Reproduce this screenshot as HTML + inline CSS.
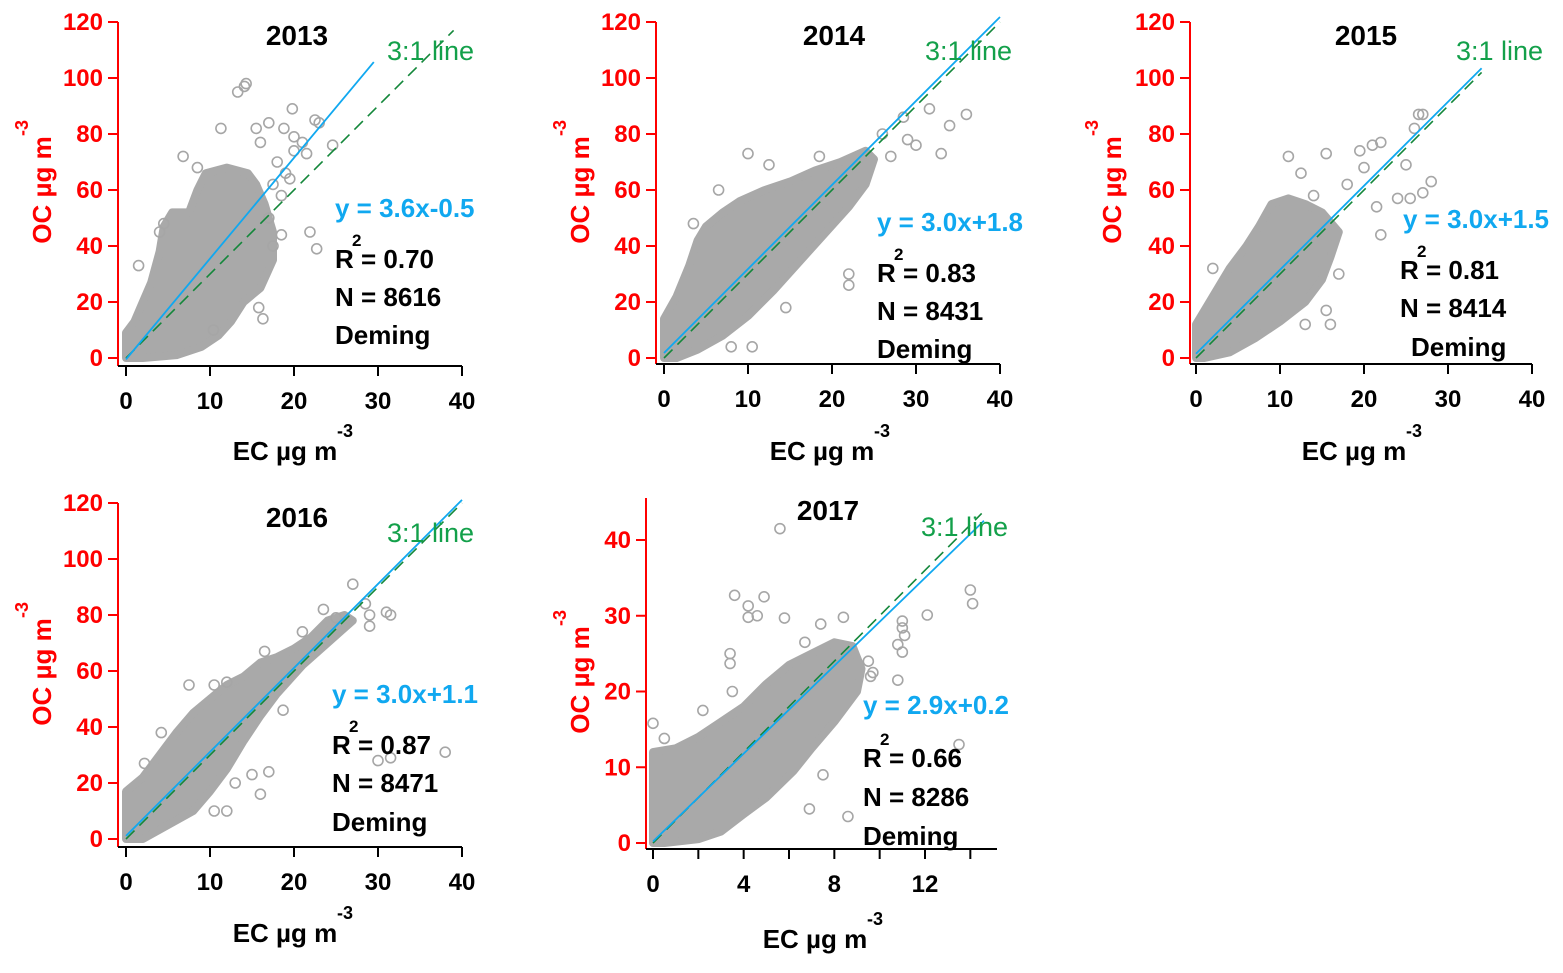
<!DOCTYPE html>
<html><head><meta charset="utf-8">
<style>
html,body{margin:0;padding:0;background:#fff;}
svg text{font-family:"Liberation Sans",Arial,sans-serif;}
</style></head>
<body>
<svg id="chart" xmlns="http://www.w3.org/2000/svg" width="1563" height="968" viewBox="0 0 1563 968"></svg>
<script>
// ---- Data (data units: EC, OC) ----
const years = ["2013","2014","2015","2016","2017"];
const fitSlopes = [3.6, 3.0, 3.0, 3.0, 2.9];
const fitIntercepts = [-0.5, 1.8, 1.5, 1.1, 0.2];
const fitXmax = [29.5, 40, 34, 40, 14.6];
const ratioXmax = [39, 40, 34, 40, 14.5];
const r2Values = ["0.70","0.83","0.81","0.87","0.66"];
const nValues = ["8616","8431","8414","8471","8286"];
const eqLabels = ["y = 3.6x-0.5","y = 3.0x+1.8","y = 3.0x+1.5","y = 3.0x+1.1","y = 2.9x+0.2"];

const cloud2013 = [[0,0],[0,9],[1,13],[2,20],[3,27],[4,38],[4.5,47],[5.5,52],[7.5,52],[8.5,60],[9.5,66],[12,68],[14.5,66],[15.5,62],[16.5,55],[17.5,45],[17.5,35],[16,25],[14,20],[12.5,13],[11,8],[9,4],[6,1],[2,0]];
const cloud2014 = [[0,0],[0,14],[1.5,22],[3,33],[4,42],[5,47],[7,52],[9,56],[12,60],[15,63],[18,67],[21,70],[24,74],[25,71],[24,62],[22,54],[19,44],[16,34],[13,24],[10,15],[7,8],[4,3],[1.5,0]];
const cloud2015 = [[0,0],[0,12],[2,22],[4,32],[6,40],[7.5,47],[9,55],[11,57],[13,55],[15,52],[17,45],[16,36],[15,28],[13,20],[10,13],[7,7],[4,2],[1,0]];
const cloud2016 = [[0,0],[0,17],[2,22],[4,30],[6,38],[8,45],[10,50],[12,55],[14,58],[16,63],[18,65],[20,68],[22,72],[24,78],[26,80],[27,78],[24,70],[21,62],[18,52],[16,44],[14,35],[12,25],[10,17],[8,10],[5,5],[2,0]];
const cloud2017 = [[0,0],[0,12],[1,12.5],[2,14],[3,16],[4,18],[5,21],[6,23.5],[7,25],[8,26.5],[8.8,26],[9.2,23],[9,20],[8,16],[7,12.5],[6.2,9.5],[5,6],[4,3.8],[3,1.5],[2,0.5],[0.5,0]];

const out2013 = [[1.5,33],[6.8,72],[11.3,82],[14.3,98],[14.1,97],[13.3,95],[19.8,89],[17,84],[15.5,82],[24.6,76],[21.9,45],[22.7,39],[16.3,14],[15.8,18],[10.4,10],[18.8,82],[22.5,85],[23,84],[20,79],[16,77],[8.5,68],[4,45],[4.5,48],[18,70],[19,66],[20,74],[21,77],[17.5,62],[18.5,58],[19.5,64],[21.5,73],[17,50],[18.5,44],[17.5,40]];
const out2014 = [[10,73],[12.5,69],[6.5,60],[31.6,89],[36,87],[34,83],[33,73],[30,76],[26,80],[22,30],[22,26],[14.5,18],[10.5,4],[8,4],[27,72],[29,78],[3.5,48],[18.5,72],[28.5,86]];
const out2015 = [[11,72],[15.5,73],[19.5,74],[21,76],[22,77],[26.5,87],[27,87],[26,82],[28,63],[27,59],[25.5,57],[24,57],[21.5,54],[22,44],[17,30],[15.5,17],[16,12],[13,12],[2,32],[20,68],[25,69],[12.5,66],[14,58],[18,62]];
const out2016 = [[7.5,55],[10.5,55],[12,56],[16.5,67],[21,74],[27,91],[23.5,82],[31,81],[31.5,80],[29,80],[29,76],[38,31],[30,28],[31.5,29],[16,16],[17,24],[15,23],[13,20],[10.5,10],[12,10],[18.7,46],[2.2,27],[4.2,38],[28.5,84],[25,79]];
const out2017 = [[5.6,41.5],[3.6,32.7],[4.9,32.5],[4.2,31.3],[4.2,29.8],[4.6,30],[5.8,29.7],[7.4,28.9],[8.4,29.8],[12.1,30.1],[14,33.4],[14.1,31.6],[11,29.3],[11,28.4],[11.1,27.4],[10.8,26.2],[11,25.2],[10.8,21.5],[9.6,22],[13.5,13],[6.9,4.5],[8.6,3.5],[7.5,9],[0,15.8],[0.5,13.8],[3.5,20],[2.2,17.5],[6.7,26.5],[3.4,25],[3.4,23.7],[9.5,24],[9.7,22.5]];

const clouds = [cloud2013, cloud2014, cloud2015, cloud2016, cloud2017];
const outliers = [out2013, out2014, out2015, out2016, out2017];
const xTicks40 = [0,10,20,30,40];
const yTicks120 = [0,20,40,60,80,100,120];
const xTicks2017 = [0,2,4,6,8,10,12,14];
const xTickLabels2017 = [0,4,8,12];
const yTicks2017 = [0,10,20,30,40];

// ---- layout (pixels) ----
const layout = [
 {ax:118, x0:126, x1:462, xmax:40, ly:366, y0:358, y1:22, ymax:120, yTop:22, xEnd:462, t:[297,45], r:[387,60], eq:[335,217], R:[335,268], N:[335,306], D:[335,344], xt:[285,460], yt:[42,190]},
 {ax:656, x0:664, x1:1000, xmax:40, ly:364, y0:358, y1:22, ymax:120, yTop:22, xEnd:1000, t:[834,45], r:[925,60], eq:[877,231], R:[877,282], N:[877,320], D:[877,358], xt:[822,460], yt:[580,190]},
 {ax:1190, x0:1196, x1:1532, xmax:40, ly:364, y0:358, y1:22, ymax:120, yTop:22, xEnd:1532, t:[1366,45], r:[1456,60], eq:[1403,228], R:[1400,279], N:[1400,317], D:[1411,356], xt:[1354,460], yt:[1112,190]},
 {ax:118, x0:126, x1:462, xmax:40, ly:847, y0:839, y1:503, ymax:120, yTop:503, xEnd:462, t:[297,527], r:[387,542], eq:[332,703], R:[332,754], N:[332,792], D:[332,831], xt:[285,942], yt:[42,672]},
 {ax:646, x0:653, x1:925, xmax:12, ly:849, y0:843, y1:540, ymax:40, yTop:498, xEnd:997, t:[828,520], r:[921,536], eq:[863,714], R:[863,767], N:[863,806], D:[863,845], xt:[815,948], yt:[580,680]}
];

const NS = "http://www.w3.org/2000/svg";
const svg = document.getElementById("chart");
function mk(tag, attrs, parent){
  const e = document.createElementNS(NS, tag);
  for (const k in attrs) e.setAttribute(k, attrs[k]);
  (parent||svg).appendChild(e);
  return e;
}

layout.forEach((L, i) => {
  const sx = v => L.x0 + (L.x1 - L.x0) * v / L.xmax;
  const sy = v => L.y0 - (L.y0 - L.y1) * v / L.ymax;
  const g = mk("g", {});
  
  

  const poly = mk("polygon", {points: clouds[i].map(p => sx(p[0]).toFixed(1)+","+sy(p[1]).toFixed(1)).join(" "), fill:"#a9a9a9", stroke:"#a9a9a9", "stroke-width":8, "stroke-linejoin":"round"}, g);
  
  
  outliers[i].forEach(p => {
    const c = mk("circle", {cx:sx(p[0]), cy:sy(p[1]), r:5, fill:"none", stroke:"#a6a6a6", "stroke-width":1.6}, g);
    
    
  });

  const rl = mk("line", {x1:sx(0), y1:sy(0), x2:sx(ratioXmax[i]), y2:sy(3*ratioXmax[i]), stroke:"#13873a", "stroke-width":1.6, "stroke-dasharray":"12,7"}, g);
  
  
  const fl = mk("line", {x1:sx(0), y1:sy(fitIntercepts[i]), x2:sx(fitXmax[i]), y2:sy(fitSlopes[i]*fitXmax[i]+fitIntercepts[i]), stroke:"#10a8f0", "stroke-width":1.8}, g);
  
  

  const ya = mk("line", {x1:L.ax, y1:L.yTop, x2:L.ax, y2:L.ly, stroke:"#ff0000", "stroke-width":2}, g);
  
  
  const xa = mk("line", {x1:L.ax, y1:L.ly, x2:L.xEnd, y2:L.ly, stroke:"#000", "stroke-width":2}, g);
  
  

  const yt = i === 4 ? yTicks2017 : yTicks120;
  yt.forEach(v => {
    mk("line", {x1:L.ax-10, y1:sy(v), x2:L.ax, y2:sy(v), stroke:"#ff0000", "stroke-width":2}, g);
    const t = mk("text", {x:L.ax-15, y:sy(v)+8, "text-anchor":"end", "font-size":24, "font-weight":"bold", fill:"#ff0000"}, g);
    t.textContent = v;
    
    
  });
  const xt = i === 4 ? xTicks2017 : xTicks40;
  const xl = i === 4 ? xTickLabels2017 : xTicks40;
  xt.forEach(v => mk("line", {x1:sx(v), y1:L.ly, x2:sx(v), y2:L.ly+10, stroke:"#000", "stroke-width":2}, g));
  xl.forEach(v => {
    const t = mk("text", {x:sx(v), y:L.ly+43, "text-anchor":"middle", "font-size":24, "font-weight":"bold", fill:"#000"}, g);
    t.textContent = v;
    
    
  });

  const title = mk("text", {x:L.t[0], y:L.t[1], "text-anchor":"middle", "font-size":28, "font-weight":"bold", fill:"#000"}, g);
  title.textContent = years[i];
  
  
  const rt = mk("text", {x:L.r[0], y:L.r[1], "font-size":27, fill:"#13a04a"}, g);
  rt.textContent = "3:1 line";
  
  
  const eq = mk("text", {x:L.eq[0], y:L.eq[1], "font-size":26, "font-weight":"bold", fill:"#10a8f0"}, g);
  eq.textContent = eqLabels[i];
  
  
  const rr = mk("text", {x:L.R[0], y:L.R[1], "font-size":26, "font-weight":"bold", fill:"#000"}, g);
  rr.textContent = "R  = " + r2Values[i];
  
  
  const sup = mk("text", {x:L.R[0]+17, y:L.R[1]-22, "font-size":17, "font-weight":"bold", fill:"#000"}, g);
  sup.textContent = "2";
  const nn = mk("text", {x:L.N[0], y:L.N[1], "font-size":26, "font-weight":"bold", fill:"#000"}, g);
  nn.textContent = "N = " + nValues[i];
  
  
  const dm = mk("text", {x:L.D[0], y:L.D[1], "font-size":26, "font-weight":"bold", fill:"#000"}, g);
  dm.textContent = "Deming";
  
  

  const xtt = mk("text", {x:L.xt[0], y:L.xt[1], "text-anchor":"middle", "font-size":26, "font-weight":"bold", fill:"#000"}, g);
  xtt.textContent = "EC  \u00b5g m";
  
  
  const xs = mk("text", {x:L.xt[0]+60, y:L.xt[1]-23, "text-anchor":"middle", "font-size":18, "font-weight":"bold", fill:"#000"}, g);
  xs.textContent = "-3";
  const ytt = mk("text", {x:0, y:0, "text-anchor":"middle", "font-size":26, "font-weight":"bold", fill:"#ff0000", transform:"translate("+(L.yt[0]+9)+","+L.yt[1]+") rotate(-90)"}, g);
  ytt.textContent = "OC  \u00b5g m";
  
  
  const ys = mk("text", {x:0, y:0, "text-anchor":"middle", "font-size":18, "font-weight":"bold", fill:"#ff0000", transform:"translate("+(L.yt[0]-14)+","+(L.yt[1]-62)+") rotate(-90)"}, g);
  ys.textContent = "-3";
});
</script>
</body></html>
